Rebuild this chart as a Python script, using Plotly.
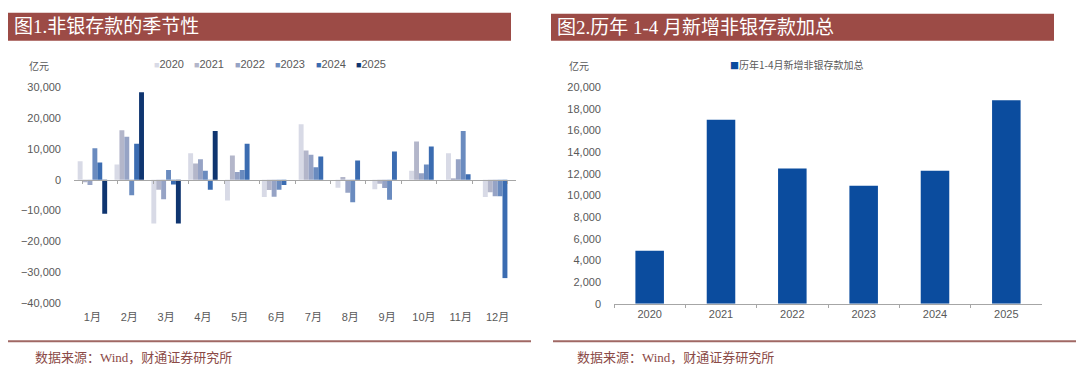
import plotly.graph_objects as go

# ---------------- data ----------------
months = ["1月", "2月", "3月", "4月", "5月", "6月", "7月", "8月", "9月", "10月", "11月", "12月"]
years = ["2020", "2021", "2022", "2023", "2024", "2025"]

v2020 = [6000, 5000, -14200, 8600, -6700, -5600, 18000, -2600, -3100, 2900, 8600, -5600]
v2021 = [-800, 16100, -3200, 5300, 7900, -3300, 9500, 900, -1300, 12400, 300, -4000]
v2022 = [-1700, 14000, -6300, 6700, 2500, -5500, 8100, -4200, -2700, 2100, 6700, -5300]
v2023 = [10200, -5000, 3200, 2900, 3200, -3200, 4100, -7300, -6500, 5000, 15800, -5300]
v2024 = [5600, 11700, -1500, -3200, 11700, -1700, 7600, 6300, 9200, 10800, 1800, -31900]
v2025 = [-11000, 28400, -14200, 15800, None, None, None, None, None, None, None, None]
season_series = [v2020, v2021, v2022, v2023, v2024, v2025]

sum_years = ["2020", "2021", "2022", "2023", "2024", "2025"]
sum_values = [4900, 17000, 12500, 10900, 12300, 18800]

left_ticks = [30000, 20000, 10000, 0, -10000, -20000, -30000, -40000]
right_ticks = [20000, 18000, 16000, 14000, 12000, 10000, 8000, 6000, 4000, 2000, 0]

# ---------------- styles ----------------
W, H = 1080, 382
season_colors = ["#d8dae6", "#b3b6ca", "#96a3c5", "#6a8bbf", "#3b6cb1", "#0f3570"]
sum_color = "#0b4c9e"
title_red = "#9c4b46"
foot_red = "#8b4a46"
gray_txt = "#595959"
axis_gray = "#a6a6a6"
NUM_FONT = "Liberation Sans, Arial, Noto Sans CJK SC"
CJK_FONT = "Noto Sans CJK SC"
SERIF_MIX = "Liberation Serif, Noto Sans CJK SC"


def px_x(p):
    return p / W


def px_y(p):
    return 1 - p / H


L_dom_x = [px_x(74), px_x(516)]
L_dom_y = [px_y(306.7), px_y(84)]
R_dom_x = [px_x(614), px_x(1042)]
R_dom_y = [px_y(307.3), px_y(84)]
L_range = [-40000, 30000]
R_range = [0, 20000]

fig = go.Figure()

for yr, vals, col in zip(years, season_series, season_colors):
    fig.add_trace(go.Bar(x=months, y=vals, name=yr, marker=dict(color=col, line=dict(width=0)),
                         xaxis="x", yaxis="y", showlegend=False))

# invisible helper trace to carry the zero-level category axis
fig.add_trace(go.Scatter(x=months, y=[0] * len(months), mode="markers", marker=dict(opacity=0),
                         xaxis="x3", yaxis="y", showlegend=False, hoverinfo="skip"))

fig.add_trace(go.Bar(x=sum_years, y=sum_values, name="历年1-4月新增非银存款加总",
                     marker=dict(color=sum_color, line=dict(width=0)), width=0.4,
                     xaxis="x2", yaxis="y2", showlegend=False))

zero_pos = L_dom_y[0] + (L_dom_y[1] - L_dom_y[0]) * (0 - L_range[0]) / (L_range[1] - L_range[0])

fig.update_layout(
    width=W, height=H,
    margin=dict(l=0, r=0, t=0, b=0),
    paper_bgcolor="white", plot_bgcolor="white",
    barmode="group", bargap=0.2, bargroupgap=0,
    font=dict(family=NUM_FONT, size=11, color=gray_txt),
    xaxis=dict(domain=L_dom_x, anchor="y", type="category", categoryarray=months,
               showline=False, ticks="", showgrid=False, zeroline=False,
               tickfont=dict(family=NUM_FONT + ", " + CJK_FONT, size=11, color=gray_txt),
               ticklabelstandoff=6),
    xaxis3=dict(overlaying="x", anchor="free", position=zero_pos, type="category",
                categoryarray=months, showline=True, linecolor=axis_gray, linewidth=1,
                ticks="outside", tickson="boundaries", ticklen=3, tickcolor=axis_gray,
                showticklabels=False, showgrid=False, zeroline=False),
    yaxis=dict(domain=L_dom_y, anchor="x", range=L_range, tickvals=left_ticks,
               tickformat=",", showgrid=False, zeroline=False, showline=False, ticks="",
               ticklabelstandoff=12, tickfont=dict(size=11, color=gray_txt)),
    xaxis2=dict(domain=R_dom_x, anchor="y2", type="category", showline=True,
                linecolor=axis_gray, linewidth=1, ticks="outside", tickson="boundaries",
                ticklen=3, tickcolor=axis_gray, showgrid=False, zeroline=False,
                tickfont=dict(size=11, color=gray_txt)),
    yaxis2=dict(domain=R_dom_y, anchor="x2", range=R_range, tickvals=right_ticks,
                tickformat=",", showgrid=False, zeroline=False, showline=False, ticks="",
                ticklabelstandoff=12, tickfont=dict(size=11, color=gray_txt)),
)

shapes = []
annotations = []

# title bars
for x0, x1, y0, y1, txt, tx in [(8, 511, 7, 36, "图1.非银存款的季节性", 12),
                                 (551, 1054, 8, 36, "图2.历年 1-4 月新增非银存款加总", 555)]:
    shapes.append(dict(type="rect", xref="paper", yref="paper", x0=px_x(x0), x1=px_x(x1),
                       y0=px_y(y1), y1=px_y(y0), fillcolor=title_red, line=dict(width=0), layer="below"))
    annotations.append(dict(text=txt, xref="paper", yref="paper", x=px_x(tx), y=px_y((y0 + y1) / 2),
                            xanchor="left", yanchor="middle", showarrow=False,
                            font=dict(family=SERIF_MIX, size=19, color="white")))

# footer lines and source text
for x0, x1, tx in [(8, 531, 33), (553, 1076, 575)]:
    shapes.append(dict(type="line", xref="paper", yref="paper", x0=px_x(x0), x1=px_x(x1),
                       y0=px_y(346), y1=px_y(346), line=dict(color="#a06864", width=2)))
    annotations.append(dict(text="数据来源：Wind，财通证券研究所", xref="paper", yref="paper",
                            x=px_x(tx), y=px_y(363), xanchor="left", yanchor="middle", showarrow=False,
                            font=dict(family=SERIF_MIX, size=13, color=foot_red)))

# unit labels
for tx in [27, 567]:
    annotations.append(dict(text="亿元", xref="paper", yref="paper", x=px_x(tx), y=px_y(61),
                            xanchor="left", yanchor="middle", showarrow=False,
                            font=dict(family=CJK_FONT, size=10, color=gray_txt)))

# left legend
for i, (yr, col) in enumerate(zip(years, season_colors)):
    annotations.append(dict(text=f"<span style='color:{col};font-size:9px'>■</span>{yr}",
                            xref="paper", yref="paper", x=px_x(152 + i * 40.4), y=px_y(60),
                            xanchor="left", yanchor="middle", showarrow=False,
                            font=dict(family=NUM_FONT, size=11, color=gray_txt)))

# right legend
annotations.append(dict(text=f"<span style='color:{sum_color};font-size:9px'>■</span>历年1-4月新增非银存款加总",
                        xref="paper", yref="paper", x=px_x(728), y=px_y(60),
                        xanchor="left", yanchor="middle", showarrow=False,
                        font=dict(family=CJK_FONT, size=10, color=gray_txt)))

fig.update_layout(shapes=shapes, annotations=annotations)

fig.write_html("out.html", config={"displayModeBar": False},
               post_script="document.body.style.margin='0';document.body.style.overflow='hidden';")
